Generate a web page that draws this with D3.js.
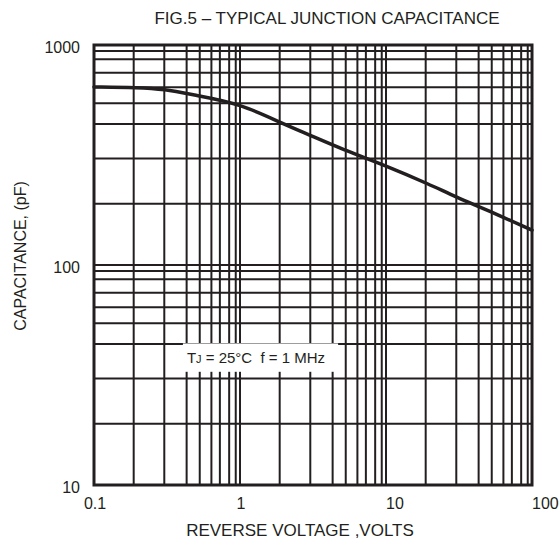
<!DOCTYPE html>
<html>
<head>
<meta charset="utf-8">
<script src="https://cdn.jsdelivr.net/npm/d3@7"></script>
<style>
  html, body { margin: 0; padding: 0; background: #fff; }
  svg { display: block; font-family: "Liberation Sans", Arial, sans-serif; }
</style>
</head>
<body>
<div id="chart"></div>
<script>
// curve
const voltage = [0.1, 0.2, 0.3, 0.5, 1, 2, 3, 5, 10, 20, 30, 50, 100];
const capacitance = [645, 641, 631, 590, 542, 436, 390, 336, 283, 232, 204, 177, 144];

// decades and the (hand drawn) sub-decade grid multipliers of the original sheet
const xDecades = [0.1, 1, 10, 100];
const yDecades = [10, 100, 1000];
const xMinor = [1.87, 3.03, 4.31, 5.30, 6.37, 7.28, 8.43, 9.35];
const yMinor = [1.9, 3.05, 4.37, 5.43, 6.43, 7.48, 8.61, 9.4];
const xTickLabels = ['0.1', '1', '10', '100'];
const yTickLabels = ['10', '100', '1000'];

const width = 559, height = 541;
const ink = '#231f20';

const svg = d3.select('#chart').append('svg')
  .attr('width', width)
  .attr('height', height);

const x = d3.scaleLog().domain([0.1, 100]).range([94, 532]);
const y = d3.scaleLog().domain([10, 1000]).range([485, 45]);

// grid
const xGrid = [];
xDecades.slice(0, -1).forEach(d => xMinor.forEach(m => xGrid.push(d * m)));
const yGrid = [];
yDecades.slice(0, -1).forEach(d => yMinor.forEach(m => yGrid.push(d * m)));

const grid = svg.append('g').attr('class', 'grid');
grid.selectAll('.vline')
  .data(xGrid.concat(xDecades))
  .enter().append('line')
  .attr('class', 'vline')
  .attr('x1', d => x(d)).attr('x2', d => x(d))
  .attr('y1', y(1000)).attr('y2', y(10))
  .attr('stroke', ink).attr('stroke-width', 2);
grid.selectAll('.hline')
  .data(yGrid.concat(yDecades))
  .enter().append('line')
  .attr('class', 'hline')
  .attr('x1', x(0.1)).attr('x2', x(100))
  .attr('y1', d => y(d)).attr('y2', d => y(d))
  .attr('stroke', ink).attr('stroke-width', 2);

// frame
svg.append('rect')
  .attr('x', x(0.1)).attr('y', y(1000))
  .attr('width', x(100) - x(0.1))
  .attr('height', y(10) - y(1000))
  .attr('fill', 'none')
  .attr('stroke', ink).attr('stroke-width', 3);

// curve
const pts = voltage.map((v, i) => [v, capacitance[i]]);
const line = d3.line()
  .x(d => x(d[0]))
  .y(d => y(d[1]))
  .curve(d3.curveBasis);
svg.append('path')
  .datum(pts)
  .attr('d', line)
  .attr('fill', 'none')
  .attr('stroke', ink)
  .attr('stroke-width', 3.5)
  .attr('stroke-linecap', 'round');

// condition box
const box = svg.append('g');
box.append('rect')
  .attr('x', x(0.4) + 1).attr('y', y(44))
  .attr('width', x(4.7) - x(0.4) - 1)
  .attr('height', y(32.7) - y(44))
  .attr('fill', '#fff');
const cond = box.append('text')
  .attr('x', x(0.4) + 5).attr('y', y(32.7) - 9)
  .style('white-space', 'pre')
  .attr('font-size', 15).attr('fill', ink);
cond.append('tspan').text('T');
cond.append('tspan').attr('font-size', 11).text('J');
cond.append('tspan').text(' = 25°C  f = 1 MHz');

// tick labels
svg.selectAll('.xlabel')
  .data(xDecades)
  .enter().append('text')
  .attr('class', 'xlabel')
  .attr('x', (d, i) => x(d) + (i < 2 ? 1 : 0))
  .attr('y', 509)
  .attr('text-anchor', (d, i) => i < 2 ? 'middle' : 'start')
  .attr('font-size', 16).attr('fill', ink)
  .text((d, i) => xTickLabels[i]);

svg.selectAll('.ylabel')
  .data(yDecades)
  .enter().append('text')
  .attr('class', 'ylabel')
  .attr('x', 80)
  .attr('y', d => y(d) + 8)
  .attr('text-anchor', 'end')
  .attr('font-size', 16).attr('fill', ink)
  .text((d, i) => yTickLabels[i]);

// titles
svg.append('text')
  .attr('x', 327).attr('y', 23.5)
  .attr('text-anchor', 'middle')
  .attr('font-size', 17).attr('fill', ink)
  .text('FIG.5 – TYPICAL JUNCTION CAPACITANCE');

svg.append('text')
  .attr('x', 300).attr('y', 536)
  .attr('text-anchor', 'middle')
  .attr('font-size', 17).attr('fill', ink)
  .text('REVERSE VOLTAGE ,VOLTS');

svg.append('text')
  .attr('transform', 'translate(26,256) rotate(-90)')
  .attr('text-anchor', 'middle')
  .attr('font-size', 16).attr('fill', ink)
  .text('CAPACITANCE, (pF)');
</script>
</body>
</html>
